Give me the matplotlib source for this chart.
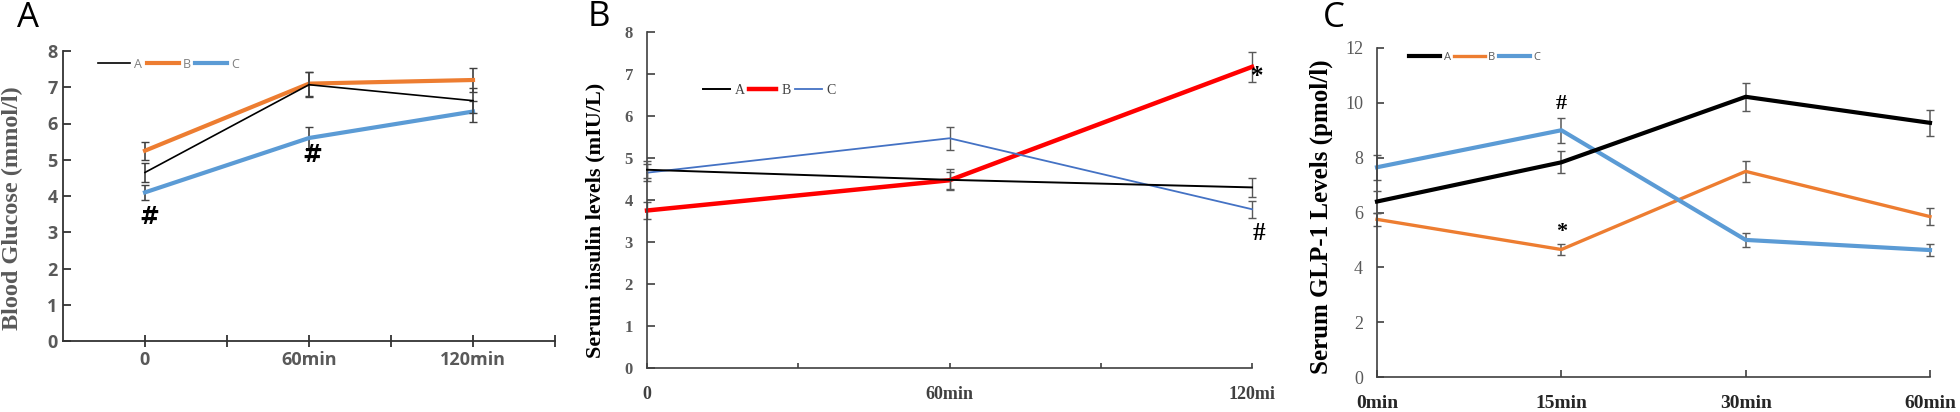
import numpy as np
import matplotlib
matplotlib.use("Agg")
import matplotlib.pyplot as plt
from matplotlib.lines import Line2D

# ---- data ----
# Panel A: blood glucose
a_labels = ["0", "60min", "120min"]
a_A = [4.65, 7.07, 6.63]
a_B = [5.25, 7.10, 7.20]
a_C = [4.10, 5.60, 6.33]
a_A_err = [0.25, 0.35, 0.35]
a_B_err = [0.25, 0.33, 0.33]
a_C_err = [0.20, 0.30, 0.28]

# Panel B: serum insulin
b_time = [0, 60, 120]
b_labels = ["0", "60min", "120mi"]
b_A = [4.72, 4.48, 4.30]
b_B = [3.75, 4.47, 7.17]
b_C = [4.65, 5.47, 3.78]
b_A_err = [0.20, 0.25, 0.22]
b_B_err = [0.20, 0.20, 0.35]
b_C_err = [0.20, 0.28, 0.20]

# Panel C: GLP-1
c_labels = ["0min", "15min", "30min", "60min"]
c_A = [6.40, 7.83, 10.22, 9.27]
c_B = [5.75, 4.65, 7.50, 5.85]
c_C = [7.65, 9.00, 5.00, 4.63]
c_A_err = [0.40, 0.40, 0.50, 0.48]
c_B_err = [0.25, 0.20, 0.38, 0.30]
c_C_err = [0.45, 0.45, 0.25, 0.22]

W, H = 1960, 412
fig = plt.figure(figsize=(W / 100, H / 100), dpi=100)

def px_axes(left, top, right, bottom):
    return fig.add_axes([left / W, (H - bottom) / H, (right - left) / W, (bottom - top) / H])

ORANGE = "#ED7D31"
BLUE = "#5B9BD5"
ecol = "#404040"

# ---------------- Panel A ----------------
ax = px_axes(63, 51, 555, 341)
xa = np.arange(1, len(a_labels) + 1)
ax.errorbar(xa, a_A, yerr=a_A_err, color="black", lw=1.2, ecolor=ecol, elinewidth=1.2, capsize=3, zorder=3)
ax.errorbar(xa, a_B, yerr=a_B_err, color=ORANGE, lw=3, ecolor=ecol, elinewidth=1.2, capsize=3, zorder=2)
ax.errorbar(xa, a_C, yerr=a_C_err, color=BLUE, lw=3, ecolor=ecol, elinewidth=1.2, capsize=3, zorder=2)
ax.set_xlim(0.5, 3.5)
ax.set_ylim(0, 8)
ax.set_xticks(xa)
ax.set_xticklabels(a_labels)
ax.set_xticks([1.5, 2.5, 3.5], minor=True)
ax.tick_params(axis="x", which="both", direction="inout", length=8.6, width=1.3, color="#333333", pad=3)
ax.tick_params(axis="y", direction="in", length=5.8, width=1.3, color="#333333", pad=4)
for lab in ax.get_xticklabels() + ax.get_yticklabels():
    lab.set_fontfamily("Open Sans")
    lab.set_fontweight("bold")
    lab.set_fontsize(13)
    lab.set_color("#595959")
for s in ["top", "right"]:
    ax.spines[s].set_visible(False)
for s in ["left", "bottom"]:
    ax.spines[s].set_linewidth(1.3)
    ax.spines[s].set_color("#333333")
ax.set_ylabel("Blood Glucose (mmol/l)", fontfamily="Liberation Serif", fontweight="bold",
              fontsize=17.5, color="#595959")
ax.yaxis.set_label_coords(-0.082, 0.457)
ax.text(1.024, 3.42, "#", fontsize=17, fontweight="bold", fontfamily="DejaVu Sans", ha="center", va="center")
ax.text(2.018, 5.13, "#", fontsize=17, fontweight="bold", fontfamily="DejaVu Sans", ha="center", va="center")
hA = [Line2D([], [], color="black", lw=1.2), Line2D([], [], color=ORANGE, lw=3), Line2D([], [], color=BLUE, lw=3)]
leg = ax.legend(hA, ["A", "B", "C"], ncol=3, frameon=False, loc="center left",
                bbox_to_anchor=(0.071, 0.955), borderpad=0, borderaxespad=0,
                handlelength=2.56, handletextpad=0.3, columnspacing=0.4,
                prop={"family": "Open Sans", "size": 9})
for t in leg.get_texts():
    t.set_color("#7f7f7f")
fig.text(17 / W, 1 - 18 / H, "A", fontsize=25, fontfamily="Open Sans", va="center", ha="left")

# ---------------- Panel B ----------------
ax = px_axes(647, 32, 1252, 368)
ax.errorbar(b_time, b_A, yerr=b_A_err, color="black", lw=1.4, ecolor="#595959", elinewidth=1.0, capsize=3, zorder=3, clip_on=False)
ax.errorbar(b_time, b_B, yerr=b_B_err, color="#FF0000", lw=3.2, ecolor="#595959", elinewidth=1.0, capsize=3, zorder=2, clip_on=False)
ax.errorbar(b_time, b_C, yerr=b_C_err, color="#4472C4", lw=1.3, ecolor="#595959", elinewidth=1.0, capsize=3, zorder=2, clip_on=False)
ax.set_xlim(0, 120)
ax.set_ylim(0, 8)
ax.set_xticks(b_time)
ax.set_xticklabels(b_labels)
ax.set_xticks([30, 90], minor=True)
ax.tick_params(axis="x", which="both", direction="in", length=3.6, width=1.2, color="#404040", pad=13)
ax.tick_params(axis="y", direction="in", length=5.8, width=1.2, color="#404040", pad=10)
for lab in ax.get_yticklabels():
    lab.set_fontfamily("Liberation Serif")
    lab.set_fontweight("bold")
    lab.set_fontsize(12)
    lab.set_color("#595959")
for lab in ax.get_xticklabels():
    lab.set_fontfamily("Liberation Serif")
    lab.set_fontweight("bold")
    lab.set_fontsize(13)
    lab.set_color("#404040")
for s in ["top", "right"]:
    ax.spines[s].set_visible(False)
for s in ["left", "bottom"]:
    ax.spines[s].set_linewidth(1.2)
    ax.spines[s].set_color("#404040")
ax.set_ylabel("Serum insulin levels (mIU/L)", fontfamily="Liberation Serif", fontweight="bold",
              fontsize=16, color="black")
ax.yaxis.set_label_coords(-0.068, 0.44)
ax.text(121, 6.95, "*", fontsize=18, fontweight="bold", fontfamily="Liberation Serif", ha="center", va="center")
ax.text(121.4, 3.21, "#", fontsize=18, fontweight="bold", fontfamily="Liberation Serif", ha="center", va="center")
hB = [Line2D([], [], color="black", lw=1.4), Line2D([], [], color="#FF0000", lw=3.2), Line2D([], [], color="#4472C4", lw=1.3)]
leg = ax.legend(hB, ["A", "B", "C"], ncol=3, frameon=False, loc="center left",
                bbox_to_anchor=(0.093, 0.827), borderpad=0, borderaxespad=0,
                handlelength=1.95, handletextpad=0.35, columnspacing=0.3,
                prop={"family": "Liberation Serif", "size": 10})
for t in leg.get_texts():
    t.set_color("#404040")
fig.text(588 / W, 1 - 17 / H, "B", fontsize=25, fontfamily="Open Sans", va="center", ha="left")

# ---------------- Panel C ----------------
ax = px_axes(1377, 48, 1930, 377)
xc = np.arange(len(c_labels))
ax.errorbar(xc, c_A, yerr=c_A_err, color="black", lw=3, ecolor="#595959", elinewidth=1.1, capsize=3, zorder=3, clip_on=False)
ax.errorbar(xc, c_B, yerr=c_B_err, color=ORANGE, lw=2.4, ecolor="#595959", elinewidth=1.1, capsize=3, zorder=2, clip_on=False)
ax.errorbar(xc, c_C, yerr=c_C_err, color=BLUE, lw=3, ecolor="#595959", elinewidth=1.1, capsize=3, zorder=2, clip_on=False)
ax.set_xlim(0, 3)
ax.set_ylim(0, 12)
ax.set_xticks(xc)
ax.set_xticklabels(c_labels)
ax.set_yticks(np.arange(0, 13, 2))
ax.tick_params(axis="x", direction="in", length=5, width=1.2, color="#404040", pad=13)
ax.tick_params(axis="y", direction="in", length=5, width=1.2, color="#404040", pad=10)
for lab in ax.get_yticklabels():
    lab.set_fontfamily("Liberation Serif")
    lab.set_fontsize(13)
    lab.set_color("#595959")
for lab in ax.get_xticklabels():
    lab.set_fontfamily("Liberation Serif")
    lab.set_fontweight("bold")
    lab.set_fontsize(14)
    lab.set_color("#262626")
for s in ["top", "right"]:
    ax.spines[s].set_visible(False)
for s in ["left", "bottom"]:
    ax.spines[s].set_linewidth(1.2)
    ax.spines[s].set_color("#404040")
ax.set_ylabel("Serum GLP-1 Levels (pmol/l)", fontfamily="Liberation Serif", fontweight="bold",
              fontsize=18, color="black")
ax.yaxis.set_label_coords(-0.080, 0.486)
ax.text(1, 9.96, "#", fontsize=16, fontweight="bold", fontfamily="Liberation Serif", ha="center", va="center")
ax.text(1, 5.29, "*", fontsize=16, fontweight="bold", fontfamily="Liberation Serif", ha="center", va="center")
hC = [Line2D([], [], color="black", lw=3), Line2D([], [], color=ORANGE, lw=2.4), Line2D([], [], color=BLUE, lw=3)]
leg = ax.legend(hC, ["A", "B", "C"], ncol=3, frameon=False, loc="center left",
                bbox_to_anchor=(0.058, 0.97), borderpad=0, borderaxespad=0,
                handlelength=2.8, handletextpad=0.3, columnspacing=0.3,
                prop={"family": "Open Sans", "size": 8})
for t in leg.get_texts():
    t.set_color("#595959")
fig.text(1323 / W, 1 - 18 / H, "C", fontsize=25, fontfamily="Open Sans", va="center", ha="left")

fig.savefig("out.png", dpi=100)
